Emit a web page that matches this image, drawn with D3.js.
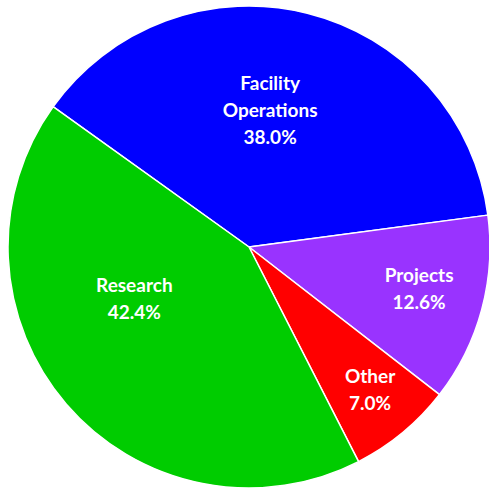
<!DOCTYPE html>
<html>
<head>
<meta charset="utf-8">
<script src="https://cdn.jsdelivr.net/npm/d3@7"></script>
<style>
  html, body { margin: 0; padding: 0; background: #fff; }
  .label { font-family: Lato, "Open Sans", sans-serif; font-weight: bold; fill: #fff; }
</style>
</head>
<body>
<div class="pieChart"></div>
<script>
var categories = ['Facility Operations', 'Projects', 'Other', 'Research'];
var shares = [38.0, 12.6, 7.0, 42.4];
var percentLabels = ['38.0%', '12.6%', '7.0%', '42.4%'];
var colors = ['#0000ff', '#9933ff', '#ff0000', '#00cc00'];

var width = 489, height = 489;
var cx = 249, cy = 247, radius = 241;

// label nudges: [angle shift in degrees, radius as fraction of pie radius]
var labelNudge = {
	'Facility Operations': [-5.2, 0.573],
	'Projects': [-1.2, 0.727],
	'Other': [-0.7, 0.776],
	'Research': [16.2, 0.523]
};

var svg = d3.select('.pieChart')
			.append('svg')
			.attr('width', width)
			.attr('height', height);

var g = svg.append('g')
		   .attr('transform', 'translate(' + cx + ',' + cy + ')');

var startAngle = -54.4 * Math.PI / 180;
var pie = d3.pie()
			.sort(null)
			.value(function(d) { return d.value; })
			.startAngle(startAngle)
			.endAngle(startAngle + 2 * Math.PI);

var data = categories.map(function(c, i) {
	return { name: c, value: shares[i], label: percentLabels[i], color: colors[i] };
});

var arc = d3.arc().innerRadius(0).outerRadius(radius);

var slices = g.selectAll('.slice')
			  .data(pie(data))
			  .enter();

slices.append('path')
	  .attr('d', arc)
	  .attr('fill', function(d) { return d.data.color; })
	  .attr('stroke', '#fff')
	  .attr('stroke-width', 1.5)
	  .attr('stroke-linejoin', 'round');

var lineHeight = 27;
slices.append('text')
	  .attr('class', 'label')
	  .attr('text-anchor', 'middle')
	  .attr('font-size', 19)
	  .each(function(d) {
		  var nudge = labelNudge[d.data.name];
		  var a = (d.startAngle + d.endAngle) / 2 + nudge[0] * Math.PI / 180;
		  var r = nudge[1] * radius;
		  var x = r * Math.sin(a), y = -r * Math.cos(a);
		  var lines = d.data.name.split(' ').concat([d.data.label]);
		  var top = y - (lines.length - 1) * lineHeight / 2;
		  var t = d3.select(this);
		  lines.forEach(function(line, i) {
			  t.append('tspan')
			   .attr('x', x)
			   .attr('y', top + i * lineHeight)
			   .attr('dy', '0.35em')
			   .text(line);
		  });
	  });
</script>
</body>
</html>
